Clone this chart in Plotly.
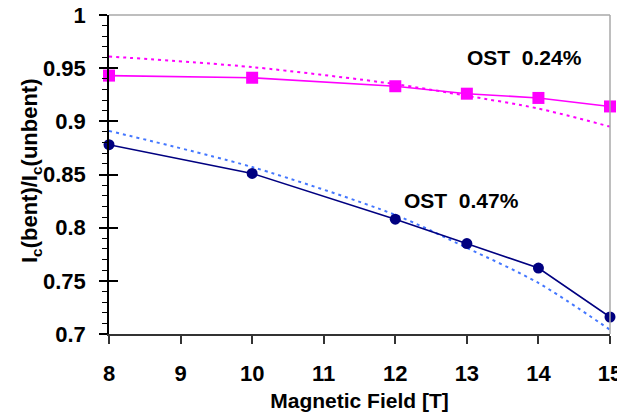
import plotly.graph_objects as go

field = [8, 10, 12, 13, 14, 15]
ost024 = [0.943, 0.941, 0.933, 0.926, 0.922, 0.914]
ost024_fit = [0.961, 0.951, 0.935, 0.924, 0.912, 0.895]
ost047 = [0.878, 0.851, 0.808, 0.785, 0.762, 0.716]
ost047_fit = [0.891, 0.857, 0.812, 0.781, 0.748, 0.704]

x_ticks = [8, 9, 10, 11, 12, 13, 14, 15]
y_ticks = [0.7, 0.75, 0.8, 0.85, 0.9, 0.95, 1]
y_labels = ["0.7", "0.75", "0.8", "0.85", "0.9", "0.95", "1"]

FONT = "Liberation Sans, Arial, sans-serif"
PINK = "#FF00FF"
NAVY = "#000080"
BLUE = "#4477FF"

fig = go.Figure()
fig.add_trace(go.Scatter(x=field, y=ost024_fit, mode="lines", line=dict(color=PINK, width=2, dash="3px,4px", shape="spline", smoothing=0.8), hoverinfo="skip"))
fig.add_trace(go.Scatter(x=field, y=ost047_fit, mode="lines", line=dict(color=BLUE, width=2, dash="3px,4px", shape="spline", smoothing=0.8), hoverinfo="skip"))
fig.add_trace(go.Scatter(x=field, y=ost024, mode="lines+markers", line=dict(color=PINK, width=1.6), marker=dict(symbol="square", size=12, color=PINK), cliponaxis=False))
fig.add_trace(go.Scatter(x=field, y=ost047, mode="lines+markers", line=dict(color=NAVY, width=1.6), marker=dict(symbol="circle", size=11, color=NAVY), cliponaxis=False))

fig.add_annotation(x=13.80, y=0.9605, text="<b>OST  0.24%</b>", showarrow=False, font=dict(family=FONT, size=21, color="black"))
fig.add_annotation(x=12.93, y=0.826, text="<b>OST  0.47%</b>", showarrow=False, font=dict(family=FONT, size=21, color="black"))

# y-axis title as rotated text
fig.add_annotation(xref="paper", yref="paper", x=-0.1557, y=0.514, xanchor="center", yanchor="middle",
                   textangle=-90, showarrow=False,
                   text="<b>I<sub>c</sub>(bent)/I<sub>c</sub>(unbent)</b>",
                   font=dict(family=FONT, size=22, color="black"))

# gray frame top and right
fig.add_shape(type="line", xref="paper", yref="paper", x0=0, x1=1, y0=1, y1=1, line=dict(color="#A8A8A8", width=1.5))
fig.add_shape(type="line", xref="paper", yref="paper", x0=1, x1=1, y0=0, y1=1, line=dict(color="#A8A8A8", width=1.5))

fig.update_layout(
    width=617, height=414,
    margin=dict(l=109, r=7, t=15, b=80),
    paper_bgcolor="white", plot_bgcolor="white",
    showlegend=False,
    font=dict(family=FONT, color="black"),
    xaxis=dict(
        range=[8, 15], tickvals=x_ticks, ticktext=[f"<b>{v}</b>" for v in x_ticks],
        showgrid=False, zeroline=False, showline=True, linecolor="#333333", linewidth=1.5,
        ticks="outside", ticklen=8, tickwidth=1.5, tickcolor="#333333",
        tickfont=dict(family=FONT, size=22, color="black"), ticklabelstandoff=11,
        ticklabeloverflow="allow",
        title=dict(text="<b>Magnetic Field [T]</b>", font=dict(family=FONT, size=21, color="black"), standoff=8),
        automargin=False,
    ),
    yaxis=dict(
        range=[0.7, 1], tickvals=y_ticks, ticktext=[f"<b>{t}</b>" for t in y_labels],
        showgrid=False, zeroline=False, showline=True, linecolor="black", linewidth=1.5,
        ticks="outside", ticklen=8, tickwidth=1.5, tickcolor="black",
        minor=dict(dtick=0.01, tick0=0.7, ticks="outside", ticklen=5, tickwidth=1, tickcolor="black"),
        tickfont=dict(family=FONT, size=22, color="black"), ticklabelstandoff=9,
        automargin=False,
    ),
    yaxis2=dict(
        range=[0.7, 1], overlaying="y", side="left", tickvals=y_ticks, showticklabels=False,
        ticks="inside", ticklen=9, tickwidth=1.5, tickcolor="black",
        showgrid=False, zeroline=False, showline=False,
    ),
)
fig.add_trace(go.Scatter(x=[None], y=[None], yaxis="y2", showlegend=False, hoverinfo="skip"))

fig.write_html("out.html")
